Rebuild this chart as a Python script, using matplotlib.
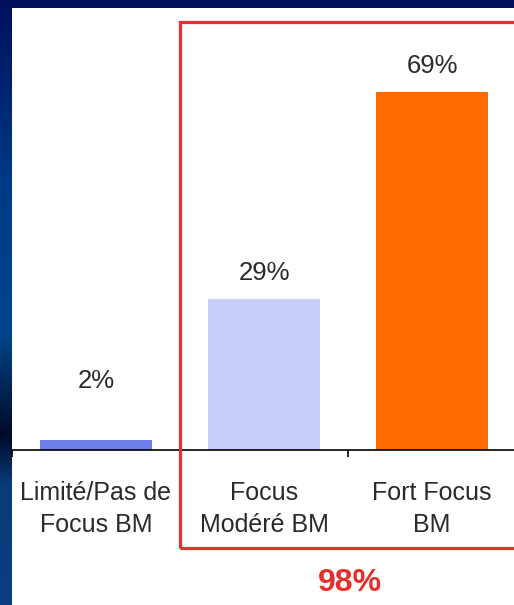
import numpy as np
import matplotlib.pyplot as plt
from matplotlib.patches import Rectangle
from matplotlib.colors import LinearSegmentedColormap

categories = ["Limité/Pas de\nFocus BM", "Focus\nModéré BM", "Fort Focus\nBM"]
values = [2, 29, 69]
value_labels = ["2%", "29%", "69%"]
bar_colors = ["#6f80ec", "#c6cdf8", "#ff6a00"]
total_label = "98%"

W, H = 514, 605
fig = plt.figure(figsize=(W / 100, H / 100), dpi=100)

# fond bleu en degrade (bord de diapo)
bg = fig.add_axes([0, 0, 1, 1])
bg.set_axis_off()
cmap = LinearSegmentedColormap.from_list(
    "slide", [(0, "#00105c"), (0.3, "#003a86"), (0.55, "#00468c"),
              (0.72, "#000a28"), (0.8, "#0a3a78"), (1, "#0a3d80")])
grad = np.linspace(0, 1, 256).reshape(-1, 1)
bg.imshow(grad, cmap=cmap, aspect="auto", extent=[0, 1, 0, 1])
bg.set_xlim(0, 1)
bg.set_ylim(0, 1)

# panneau blanc
fig.patches.append(Rectangle((12 / W, 0), 1, 1 - 8 / H, transform=fig.transFigure,
                             facecolor="white", edgecolor="none", zorder=1))

ax = fig.add_axes([12 / W, 1 - 450 / H, 504 / W, 428 / H])
ax.set_zorder(2)
ax.patch.set_alpha(0)
x = np.arange(len(categories))
ax.bar(x, values, width=0.667, color=bar_colors)
# petite barre : etiquette remontee comme dans l'original
label_floor = 8.3
for xi, v, lab in zip(x, values, value_labels):
    ax.annotate(lab, (xi, max(v, label_floor)), xytext=(0, 14),
                textcoords="offset pixels", ha="center", va="bottom",
                fontsize=18.5, color="#2a2a2a", family="Liberation Sans")

ax.set_xlim(-0.5, 2.5)
ax.set_ylim(0, 428 / 5.19)
for s in ["top", "left", "right"]:
    ax.spines[s].set_visible(False)
ax.spines["bottom"].set_linewidth(1.2)
ax.set_yticks([])
ax.set_xticks(x)
ax.set_xticklabels(categories, fontsize=18, color="#2a2a2a",
                   family="Liberation Sans", linespacing=1.45)
ax.tick_params(axis="x", which="major", length=0, pad=22)
ax.set_xticks([-0.5, 0.5, 1.5, 2.5], minor=True)
ax.tick_params(axis="x", which="minor", length=5, width=1.2, direction="out")

# cadre rouge autour des deux barres de droite
fig.patches.append(Rectangle((180 / W, 1 - 548 / H), 1, (548 - 22) / H,
                             transform=fig.transFigure, facecolor="none",
                             edgecolor="#e5302e", linewidth=2.3, zorder=3))
fig.text(350 / W, 1 - 583 / H, total_label, ha="center", va="center",
         fontsize=23, fontweight="bold", color="#e5302e", family="Liberation Sans")

fig.savefig("out.png", dpi=100)
